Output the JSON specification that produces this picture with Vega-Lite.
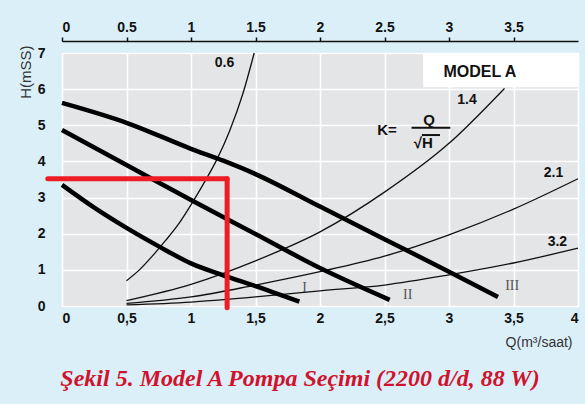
{
  "$schema": "https://vega.github.io/schema/vega-lite/v6.json",
  "width": 516,
  "height": 253,
  "autosize": {"type": "none"},
  "padding": {"left": 62, "top": 53, "right": 7, "bottom": 98},
  "background": "#dbeff9",
  "config": {
    "font": "Liberation Sans",
    "view": {"stroke": null, "fill": "#e4e5e7"},
    "axisLeft": {"domain": false, "ticks": false, "labelPadding": 17, "labelFontSize": 14, "labelFontWeight": "bold", "labelColor": "#111", "labelOverlap": false, "grid": true, "gridColor": "#ffffff", "gridWidth": 1.6, "titleFontSize": 15, "titleFontWeight": "normal", "titleColor": "#333", "titleX": -37, "titleY": -8, "titleAlign": "right", "titleBaseline": "middle", "titleAngle": 270},
    "axisBottom": {"domain": false, "ticks": false, "labelPadding": 5, "labelFontSize": 14, "labelFontWeight": "bold", "labelColor": "#111", "labelOverlap": false, "gridColor": "#ffffff", "gridWidth": 1.6, "titleFontSize": 14, "titleFontWeight": "normal", "titleColor": "#333", "titleX": 510, "titleY": 36, "titleAlign": "right", "titleBaseline": "middle"},
    "axisTop": {"domain": true, "domainColor": "#111", "domainWidth": 1.5, "ticks": true, "tickColor": "#111", "tickSize": 4, "tickWidth": 1.5, "offset": 12, "labelPadding": 3, "labelFontSize": 14, "labelFontWeight": "bold", "labelColor": "#111", "labelOverlap": false, "grid": false}
  },
  "title": {
    "text": "Şekil 5. Model A Pompa Seçimi (2200 d/d, 88 W)",
    "orient": "bottom",
    "anchor": "middle",
    "font": "Liberation Serif",
    "fontSize": 24,
    "fontWeight": "bold",
    "fontStyle": "italic",
    "color": "#d0132d",
    "offset": 18,
    "dx": -20
  },
  "datasets": {
    "box": [{"x": 2.8, "x2": 4, "y": 6.05, "y2": 7}],
    "system": [
      {"k": "0.6", "x": 0.5, "y": 0.7}, {"k": "0.6", "x": 0.6, "y": 1.0}, {"k": "0.6", "x": 0.7, "y": 1.38}, {"k": "0.6", "x": 0.8, "y": 1.8}, {"k": "0.6", "x": 0.9, "y": 2.25}, {"k": "0.6", "x": 1.0, "y": 2.8}, {"k": "0.6", "x": 1.1, "y": 3.4}, {"k": "0.6", "x": 1.2, "y": 4.05}, {"k": "0.6", "x": 1.3, "y": 4.85}, {"k": "0.6", "x": 1.4, "y": 5.85}, {"k": "0.6", "x": 1.49, "y": 7.0},
      {"k": "1.4", "x": 0.5, "y": 0.15}, {"k": "1.4", "x": 1.0, "y": 0.6}, {"k": "1.4", "x": 1.5, "y": 1.25}, {"k": "1.4", "x": 2.0, "y": 2.05}, {"k": "1.4", "x": 2.5, "y": 3.15}, {"k": "1.4", "x": 3.0, "y": 4.5}, {"k": "1.4", "x": 3.43, "y": 6.02},
      {"k": "2.1", "x": 0.5, "y": 0.07}, {"k": "2.1", "x": 1.0, "y": 0.25}, {"k": "2.1", "x": 1.5, "y": 0.58}, {"k": "2.1", "x": 2.0, "y": 0.95}, {"k": "2.1", "x": 2.5, "y": 1.38}, {"k": "2.1", "x": 3.0, "y": 1.97}, {"k": "2.1", "x": 3.5, "y": 2.68}, {"k": "2.1", "x": 4.0, "y": 3.52},
      {"k": "3.2", "x": 0.5, "y": 0.03}, {"k": "3.2", "x": 1.0, "y": 0.11}, {"k": "3.2", "x": 1.5, "y": 0.25}, {"k": "3.2", "x": 2.0, "y": 0.42}, {"k": "3.2", "x": 2.5, "y": 0.58}, {"k": "3.2", "x": 3.0, "y": 0.86}, {"k": "3.2", "x": 3.5, "y": 1.19}, {"k": "3.2", "x": 4.0, "y": 1.6}
    ],
    "pump": [
      {"c": "I", "x": 0, "y": 3.35}, {"c": "I", "x": 0.25, "y": 2.72}, {"c": "I", "x": 0.5, "y": 2.16}, {"c": "I", "x": 0.75, "y": 1.65}, {"c": "I", "x": 1.0, "y": 1.18}, {"c": "I", "x": 1.25, "y": 0.85}, {"c": "I", "x": 1.5, "y": 0.55}, {"c": "I", "x": 1.84, "y": 0.12},
      {"c": "II", "x": 0, "y": 4.87}, {"c": "II", "x": 0.5, "y": 3.9}, {"c": "II", "x": 1.0, "y": 2.93}, {"c": "II", "x": 1.5, "y": 1.99}, {"c": "II", "x": 2.0, "y": 1.05}, {"c": "II", "x": 2.54, "y": 0.17},
      {"c": "III", "x": 0, "y": 5.62}, {"c": "III", "x": 0.5, "y": 5.07}, {"c": "III", "x": 1.0, "y": 4.35}, {"c": "III", "x": 1.25, "y": 4.02}, {"c": "III", "x": 1.5, "y": 3.65}, {"c": "III", "x": 2.0, "y": 2.75}, {"c": "III", "x": 2.5, "y": 1.85}, {"c": "III", "x": 3.0, "y": 0.95}, {"c": "III", "x": 3.38, "y": 0.25}
    ],
    "red": [
      {"x": -0.11, "x2": 1.28, "y": 3.52, "y2": 3.52},
      {"x": 1.28, "x2": 1.28, "y": 3.52, "y2": -0.05}
    ],
    "numlabels": [
      {"x": 1.26, "y": 6.73, "text": "0.6"},
      {"x": 3.14, "y": 5.71, "text": "1.4"},
      {"x": 3.81, "y": 3.68, "text": "2.1"},
      {"x": 3.84, "y": 1.77, "text": "3.2"}
    ],
    "model": [{"x": 3.24, "y": 6.48, "text": "MODEL A"}],
    "formula": [
      {"x": 2.52, "y": 4.88, "text": "K="},
      {"x": 2.845, "y": 5.15, "text": "Q"},
      {"x": 2.8, "y": 4.52, "text": "√H"}
    ],
    "bar": [{"x": 2.71, "x2": 3.01, "y": 4.93}, {"x": 2.79, "x2": 2.93, "y": 4.73}],
    "roman": [
      {"x": 1.88, "y": 0.5, "text": "I"},
      {"x": 2.68, "y": 0.3, "text": "II"},
      {"x": 3.49, "y": 0.55, "text": "III"}
    ]
  },
  "resolve": {"axis": {"x": "independent"}},
  "layer": [
    {
      "data": {"name": "box"},
      "mark": {"type": "rect", "fill": "#ffffff"},
      "encoding": {
        "x": {"field": "x", "type": "quantitative", "scale": {"domain": [0, 4], "nice": false}, "axis": null},
        "x2": {"field": "x2"},
        "y": {"field": "y", "type": "quantitative", "scale": {"domain": [0, 7], "nice": false}, "title": "H(mSS)", "axis": {"values": [0, 1, 2, 3, 4, 5, 6, 7]}},
        "y2": {"field": "y2"}
      }
    },
    {
      "data": {"name": "system"},
      "mark": {"type": "line", "color": "#111", "strokeWidth": 1.3, "interpolate": "monotone"},
      "encoding": {
        "x": {"field": "x", "type": "quantitative", "scale": {"domain": [0, 4], "nice": false}, "axis": {"orient": "top", "values": [0, 0.5, 1, 1.5, 2, 2.5, 3, 3.5], "format": "~g", "title": null}},
        "y": {"field": "y", "type": "quantitative", "scale": {"domain": [0, 7], "nice": false}, "title": "H(mSS)", "axis": {"values": [0, 1, 2, 3, 4, 5, 6, 7]}},
        "detail": {"field": "k", "type": "nominal"}
      }
    },
    {
      "data": {"name": "pump"},
      "mark": {"type": "line", "color": "#000", "strokeWidth": 4.5, "interpolate": "monotone"},
      "encoding": {
        "x": {"field": "x", "type": "quantitative", "scale": {"domain": [0, 4], "nice": false}, "title": "Q(m³/saat)", "axis": {"orient": "bottom", "values": [0, 0.5, 1, 1.5, 2, 2.5, 3, 3.5, 4], "format": "~g", "labelExpr": "replace(datum.label, '.', ',')", "grid": true}},
        "y": {"field": "y", "type": "quantitative", "scale": {"domain": [0, 7], "nice": false}, "title": "H(mSS)", "axis": {"values": [0, 1, 2, 3, 4, 5, 6, 7]}},
        "detail": {"field": "c", "type": "nominal"}
      }
    },
    {
      "data": {"name": "red"},
      "mark": {"type": "rule", "color": "#ee1c25", "strokeWidth": 5, "strokeCap": "round"},
      "encoding": {
        "x": {"field": "x", "type": "quantitative", "scale": {"domain": [0, 4], "nice": false}, "axis": null},
        "x2": {"field": "x2"},
        "y": {"field": "y", "type": "quantitative", "scale": {"domain": [0, 7], "nice": false}, "title": "H(mSS)", "axis": {"values": [0, 1, 2, 3, 4, 5, 6, 7]}},
        "y2": {"field": "y2"}
      }
    },
    {
      "data": {"name": "bar"},
      "mark": {"type": "rule", "color": "#111", "strokeWidth": 2},
      "encoding": {
        "x": {"field": "x", "type": "quantitative", "scale": {"domain": [0, 4], "nice": false}, "axis": null},
        "x2": {"field": "x2"},
        "y": {"field": "y", "type": "quantitative", "scale": {"domain": [0, 7], "nice": false}, "title": "H(mSS)", "axis": {"values": [0, 1, 2, 3, 4, 5, 6, 7]}}
      }
    },
    {
      "data": {"name": "numlabels"},
      "mark": {"type": "text", "font": "Liberation Sans", "fontSize": 14, "fontWeight": "bold", "color": "#111", "align": "center", "baseline": "middle"},
      "encoding": {
        "x": {"field": "x", "type": "quantitative", "scale": {"domain": [0, 4], "nice": false}, "axis": null},
        "y": {"field": "y", "type": "quantitative", "scale": {"domain": [0, 7], "nice": false}, "title": "H(mSS)", "axis": {"values": [0, 1, 2, 3, 4, 5, 6, 7]}},
        "text": {"field": "text"}
      }
    },
    {
      "data": {"name": "model"},
      "mark": {"type": "text", "font": "Liberation Sans", "fontSize": 16, "fontWeight": "bold", "color": "#111", "align": "center", "baseline": "middle"},
      "encoding": {
        "x": {"field": "x", "type": "quantitative", "scale": {"domain": [0, 4], "nice": false}, "axis": null},
        "y": {"field": "y", "type": "quantitative", "scale": {"domain": [0, 7], "nice": false}, "title": "H(mSS)", "axis": {"values": [0, 1, 2, 3, 4, 5, 6, 7]}},
        "text": {"field": "text"}
      }
    },
    {
      "data": {"name": "formula"},
      "mark": {"type": "text", "font": "Liberation Sans", "fontSize": 15, "fontWeight": "bold", "color": "#111", "align": "center", "baseline": "middle"},
      "encoding": {
        "x": {"field": "x", "type": "quantitative", "scale": {"domain": [0, 4], "nice": false}, "axis": null},
        "y": {"field": "y", "type": "quantitative", "scale": {"domain": [0, 7], "nice": false}, "title": "H(mSS)", "axis": {"values": [0, 1, 2, 3, 4, 5, 6, 7]}},
        "text": {"field": "text"}
      }
    },
    {
      "data": {"name": "roman"},
      "mark": {"type": "text", "font": "Liberation Serif", "fontSize": 14, "color": "#555", "align": "center", "baseline": "middle"},
      "encoding": {
        "x": {"field": "x", "type": "quantitative", "scale": {"domain": [0, 4], "nice": false}, "axis": null},
        "y": {"field": "y", "type": "quantitative", "scale": {"domain": [0, 7], "nice": false}, "title": "H(mSS)", "axis": {"values": [0, 1, 2, 3, 4, 5, 6, 7]}},
        "text": {"field": "text"}
      }
    }
  ]
}
